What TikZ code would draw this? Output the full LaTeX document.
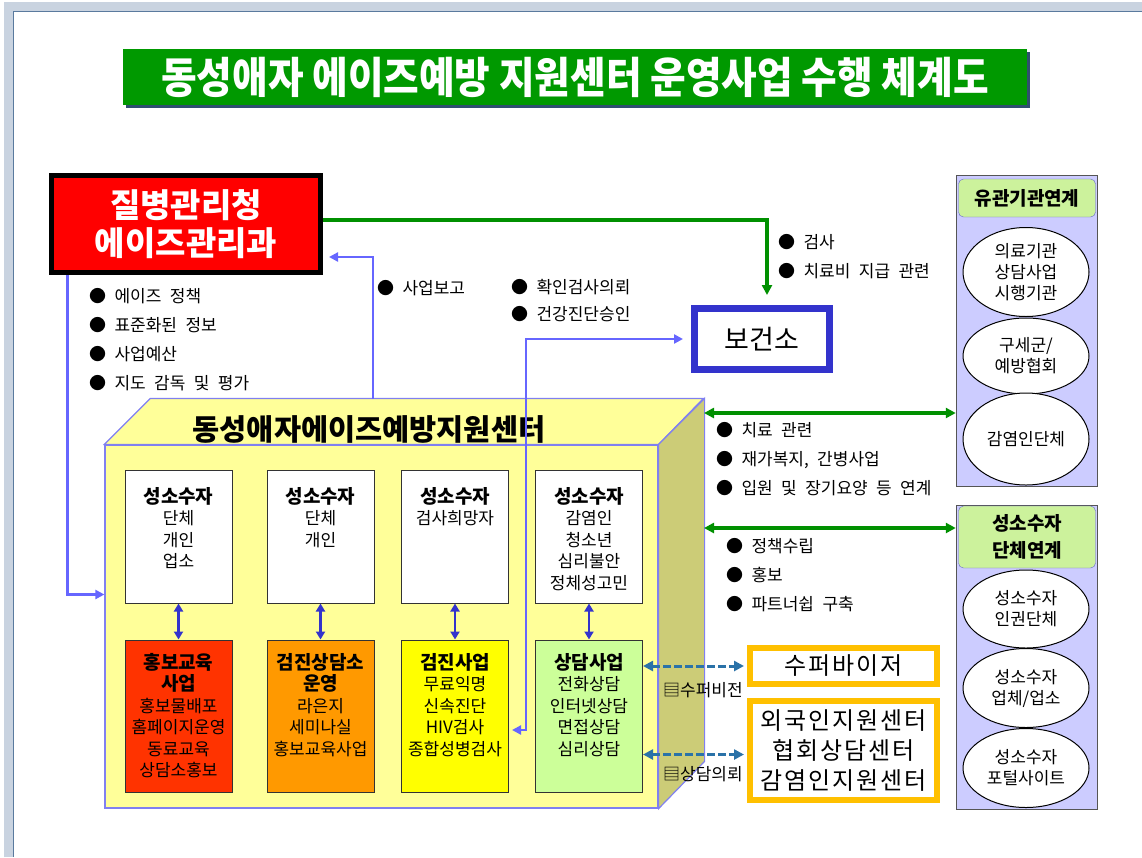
\documentclass[tikz,border=0pt]{standalone}
\usepackage{fontspec}
\setmainfont{Noto Sans CJK KR}[WordSpace=2.2]
\newfontfamily\titlefont{Noto Sans CJK KR}[FakeStretch=0.9]
\usetikzlibrary{arrows.meta,shapes.geometric,shadows}

\definecolor{titlegreen}{HTML}{009900}
\definecolor{shadowblue}{HTML}{2F4F6F}
\definecolor{agencyred}{HTML}{FF0000}
\definecolor{deepblue}{HTML}{3333CC}
\definecolor{linkblue}{HTML}{6666FF}
\definecolor{arrowgreen}{HTML}{009000}
\definecolor{cubeyellow}{HTML}{FFFF99}
\definecolor{cubeolive}{HTML}{CCCC77}
\definecolor{cubeedge}{HTML}{8080F0}
\definecolor{boxedge}{HTML}{333333}
\definecolor{promored}{HTML}{FF3300}
\definecolor{clinicorange}{HTML}{FF9900}
\definecolor{testyellow}{HTML}{FFFF00}
\definecolor{counselgreen}{HTML}{CCFF99}
\definecolor{panelviolet}{HTML}{CCCCFF}
\definecolor{panelgray}{HTML}{555555}
\definecolor{headgreen}{HTML}{CCF29C}
\definecolor{headblue}{HTML}{6666CC}
\definecolor{boxorange}{HTML}{FFC000}
\definecolor{dashblue}{HTML}{2A72A8}
\definecolor{framegray}{HTML}{C9D3E0}
\definecolor{frameedge}{HTML}{5A7A9E}

% Kopfzeile und Textblock in den Kaesten
\newcommand{\boxhead}[1]{{\bfseries\fontsize{19}{21.5}\selectfont #1}}
\newcommand{\inbox}[3]{\parbox[c][#1][t]{106pt}{\centering\vspace*{#2}#3}}

\begin{document}
\begin{tikzpicture}[x=1pt,y=-1pt]

    % --- Grundeinstellungen fuer Styles ---
    \tikzset{
        % Basis-Stil fuer alle Kaesten
        component/.style={
            draw,
            inner sep=0pt,
            align=center
        },
        titlebar/.style={
            fill=titlegreen,
            text=white,
            minimum width=904,
            minimum height=56,
            font=\titlefont\bfseries\fontsize{43}{43}\selectfont,
            drop shadow={shadow xshift=2.5pt, shadow yshift=-2.5pt, fill=shadowblue, opacity=1}
        },
        agency/.style={
            component,
            fill=agencyred,
            line width=5pt,
            text=white,
            minimum width=269,
            minimum height=97,
            font=\bfseries\fontsize{33}{38}\selectfont
        },
        healthcentre/.style={
            component,
            draw=deepblue,
            line width=7pt,
            fill=white,
            minimum width=135,
            minimum height=61,
            font=\fontsize{27}{30}\selectfont
        },
        cubefront/.style={
            draw=cubeedge,
            line width=1.2pt,
            fill=cubeyellow,
            inner sep=0pt,
            minimum width=553,
            minimum height=363
        },
        cubetitle/.style={
            font=\bfseries\fontsize{29.5}{30}\selectfont
        },
        groupbox/.style={
            component,
            draw=boxedge,
            line width=1pt,
            fill=white,
            minimum width=107,
            minimum height=133,
            font=\fontsize{17}{21.5}\selectfont
        },
        actbox/.style={
            groupbox,
            minimum height=152
        },
        panel/.style={
            draw=panelgray,
            line width=1.5pt,
            fill=panelviolet,
            minimum width=141
        },
        panelhead/.style={
            component,
            draw=headblue,
            fill=headgreen,
            rounded corners=5pt,
            minimum width=137,
            font=\bfseries\fontsize{19}{27}\selectfont
        },
        partner/.style={
            component,
            ellipse,
            draw=black,
            line width=1pt,
            fill=white,
            minimum width=126,
            font=\fontsize{17}{21}\selectfont
        },
        orangebox/.style={
            component,
            draw=boxorange,
            line width=6pt,
            fill=white,
            minimum width=187,
            font=\fontsize{24}{30}\selectfont\addfontfeature{LetterSpace=8}
        },
        % Stil fuer freistehende Beschriftungen
        bullets/.style={
            align=left,
            inner sep=0pt,
            anchor=west,
            font=\fontsize{17}{29}\selectfont
        },
        % Stile fuer Verbindungen
        feedline/.style={
            draw=linkblue,
            line width=2.5pt,
            >={Triangle[length=9pt, width=9pt]}
        },
        fundline/.style={
            draw=arrowgreen,
            line width=3.5pt,
            >={Triangle[length=10pt, width=10pt]}
        },
        pairline/.style={
            draw=deepblue,
            line width=2.5pt,
            >={Triangle[length=8pt, width=9pt]}
        },
        adviceline/.style={
            draw=dashblue,
            line width=3pt,
            dash pattern=on 8pt off 3pt,
            >={Triangle[length=10pt, width=10pt]}
        }
    }

    \useasboundingbox (0,0) rectangle (1142,857);

    % --- 1. Rahmen und Titel ---
    \draw[framegray, line width=9pt] (8,857) -- (8,6) -- (1142,6);
    \draw[frameedge, line width=1.5pt] (13.5,857) -- (13.5,11.5) -- (1142,11.5);

    \node[titlebar] (title) at (575,77) {동성애자 에이즈예방 지원센터 운영사업 수행 체계도};

    % --- 2. Behoerden ---
    \node[agency] (kcdc) at (186,224) {질병관리청\\에이즈관리과};
    \node[healthcentre] (bogunso) at (762,339) {보건소};

    \node[bullets] (kcdcnotes) at (89,340) {● 에이즈 정책\\● 표준화된 정보\\● 사업예산\\● 지도 감독 및 평가};
    \node[bullets] (reportnote) at (377,288) {● 사업보고};
    \node[bullets, font=\fontsize{17}{27}\selectfont] (confirmnote) at (511,301) {● 확인검사의뢰\\● 건강진단승인};
    \node[bullets] (testnote) at (778,257) {● 검사\\● 치료비 지급 관련};

    % --- 3. Zentrum (Quader) ---
    \node[cubefront] (centre) at (381.5,626.5) {};
    \filldraw[draw=cubeedge, line width=1.2pt, fill=cubeyellow]
        (centre.north west) -- ++(46,-46) -- ++(553,0) -- (centre.north east) -- cycle;
    \filldraw[draw=cubeedge, line width=1.2pt, fill=cubeolive]
        (centre.north east) -- ++(46,-46) -- ++(0,363) -- (centre.south east) -- cycle;
    \node[cubetitle] (centretitle) at (369,429) {동성애자에이즈예방지원센터};

    % Zielgruppen (oben)
    \node[groupbox] (grp1) at (178.5,536.5) {\inbox{133pt}{17pt}{\boxhead{성소수자}\\단체\\개인\\업소}};
    \node[groupbox] (grp2) at (320.5,536.5) {\inbox{133pt}{17pt}{\boxhead{성소수자}\\단체\\개인}};
    \node[groupbox] (grp3) at (455,536.5) {\inbox{133pt}{17pt}{\boxhead{성소수자}\\검사희망자}};
    \node[groupbox] (grp4) at (589,536.5) {\inbox{133pt}{17pt}{\boxhead{성소수자}\\감염인\\청소년\\심리불안\\정체성고민}};

    % Sachgebiete (unten)
    \node[actbox, fill=promored] (act1) at (178.5,716) {\inbox{152pt}{13pt}{\boxhead{홍보교육}\\\boxhead{사업}\\홍보물배포\\홈페이지운영\\동료교육\\상담소홍보}};
    \node[actbox, fill=clinicorange] (act2) at (320.5,716) {\inbox{152pt}{13pt}{\boxhead{검진상담소}\\\boxhead{운영}\\라은지\\세미나실\\홍보교육사업}};
    \node[actbox, fill=testyellow] (act3) at (455,716) {\inbox{152pt}{13pt}{\boxhead{검진사업}\\무료익명\\신속진단\\HIV검사\\종합성병검사}};
    \node[actbox, fill=counselgreen] (act4) at (589,716) {\inbox{152pt}{13pt}{\boxhead{상담사업}\\전화상담\\인터넷상담\\면접상담\\심리상담}};

    % --- 4. Partner (rechts) ---
    \node[panel, minimum height=311] (orgs) at (1027,331) {};
    \node[panelhead, minimum height=38] (orgshead) at (1027,198) {유관기관연계};
    \node[partner, minimum height=89] (org1) at (1026,272) {의료기관\\상담사업\\시행기관};
    \node[partner, minimum height=76] (org2) at (1026,356) {구세군/\\예방협회};
    \node[partner, minimum height=92] (org3) at (1026,439) {감염인단체};

    \node[panel, minimum height=304] (groups) at (1027,657.5) {};
    \node[panelhead, minimum height=62] (groupshead) at (1027,537) {성소수자\\단체연계};
    \node[partner, minimum height=78] (grpa) at (1026,609) {성소수자\\인권단체};
    \node[partner, minimum height=79] (grpb) at (1026,688) {성소수자\\업체/업소};
    \node[partner, minimum height=79] (grpc) at (1026,768) {성소수자\\포털사이트};

    \node[bullets] (carenote) at (716,459) {● 치료 관련\\● 재가복지, 간병사업\\● 입원 및 장기요양 등 연계};
    \node[bullets] (groupnote) at (726,575) {● 정책수립\\● 홍보\\● 파트너쉽 구축};

    % Beratung (unten rechts)
    \node[orangebox, minimum height=36] (super) at (843.5,666) {수퍼바이저};
    \node[orangebox, minimum height=99] (centers) at (843.5,750.5) {외국인지원센터\\협회상담센터\\감염인지원센터};
    \node[bullets] (supernote) at (663,690) {▤수퍼비전};
    \node[bullets] (referralnote) at (663,774) {▤상담의뢰};

    % --- 5. Verbindungen (Pfeile) ---
    \coordinate (reportfoot) at (373,399);
    \coordinate (screenbend) at (526,339);
    \coordinate (orglink) at (704,413);
    \coordinate (grouplink) at (704,528);

    % Foerderung und Aufsicht
    \draw[fundline, ->, shorten >=10pt] ([yshift=4pt]kcdc.east) -| ([xshift=5pt]bogunso.north);
    \draw[feedline, ->] ([xshift=18.5pt]kcdc.south west) |- ([yshift=32pt]centre.west);
    \draw[feedline, ->, shorten >=6pt] (reportfoot) |- ([yshift=-33pt]kcdc.east);
    \draw[feedline, <->, shorten <=3pt, shorten >=8pt] ([yshift=-14pt]act3.east) -| (screenbend) -- (bogunso.west);

    % Zielgruppen und Sachgebiete
    \foreach \i in {1,...,4}
        \draw[pairline, <->] (grp\i) -- (act\i);

    % Vernetzung
    \draw[fundline, <->] (orglink) -- (orglink -| orgs.west);
    \draw[fundline, <->] (grouplink) -- (grouplink -| groups.west);
    \draw[adviceline, <->, shorten >=3pt] (act4.east |- super.west) -- (super.west);
    \draw[adviceline, <->, shorten >=3pt] ([yshift=-4pt]act4.east |- centers.west) -- ([yshift=-4pt]centers.west);

\end{tikzpicture}
\end{document}
